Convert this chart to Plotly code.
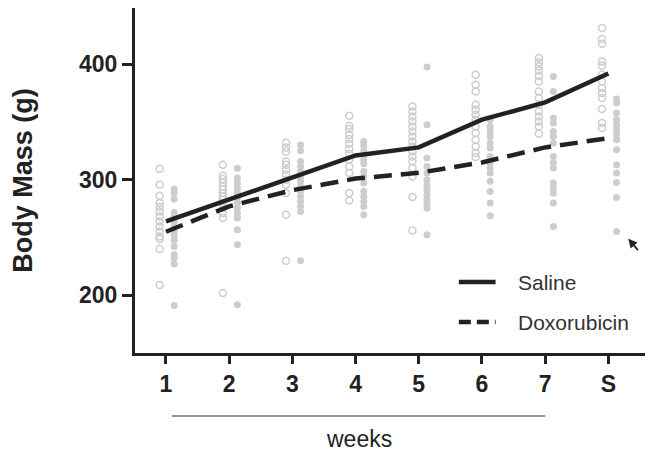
import plotly.graph_objects as go

# ---------------- data ----------------
categories = ["1", "2", "3", "4", "5", "6", "7", "S"]

saline_mean = [264, 283, 301, 321, 328, 352, 367, 392]
doxo_mean = [255, 277, 291, 301, 306, 315, 328, 336]

saline_points = [
    [309.5, 295.7, 286.1, 279.8, 276.4, 272.6, 268.2, 263.9, 259.6, 255.3, 250.9, 248.7, 240.0, 208.9],
    [313, 303.5, 300.6, 297.7, 294.2, 291.3, 288.5, 285.6, 282.7, 279.8, 275.5, 271.2, 266.8, 201.9],
    [332, 328, 324.5, 315.8, 313, 308.7, 304.3, 300, 295.7, 288.5, 269.7, 229.9],
    [355.4, 346.8, 343.9, 339, 335.2, 331.2, 326.6, 322.5, 317.3, 311.5, 305.8, 288.5, 282.1],
    [363.5, 359.1, 354.8, 350.5, 346.1, 341.8, 337.5, 333.2, 328.8, 324.5, 320.2, 315.8, 310.1, 302.9, 285, 256.1],
    [390.9, 382.3, 376.5, 364.9, 360.6, 356.3, 351.9, 346.1, 340.4, 334.6, 328.8, 323.1, 319.6],
    [405.4, 401.6, 398.1, 394.4, 390, 385.1, 376.5, 370.7, 364.9, 359.1, 354.8, 350.5, 346.1, 339.8],
    [431.3, 421.8, 417.7, 402.4, 398.7, 390.9, 385.1, 379.4, 375.1, 370.7, 361.2, 349.1, 344.8],
]

doxo_points = [
    [292, 288.5, 283.3, 271.7, 268.2, 263.9, 259.6, 255.3, 251.5, 247.5, 242.3, 235.1, 232.2, 227, 191.2],
    [310, 301.5, 297, 292.8, 288.5, 284.2, 279.8, 275.5, 271.2, 266.8, 256.7, 243.7, 191.8],
    [330, 325, 315.8, 311.5, 307.2, 302.9, 298.6, 294.2, 289.9, 285.6, 281.3, 277, 272.6, 229.9],
    [333.2, 329.4, 325.4, 321.6, 317.3, 313.9, 307.2, 302.9, 297.1, 289.9, 285.6, 281.2, 276.9, 269.7],
    [397.6, 347.6, 318.8, 311.5, 305.8, 300, 295.7, 291.3, 287, 282.7, 278.4, 275.5, 252.4],
    [351.9, 346.1, 341.8, 337.5, 331.8, 327.4, 320.2, 314.4, 310.1, 305.8, 298.6, 289.9, 279.8, 268.8],
    [389.4, 376.5, 353.4, 349.1, 341.8, 337.5, 331.8, 320.2, 314.4, 310.1, 297.1, 292.8, 288.5, 279.8, 259.6],
    [369.9, 366.4, 357.7, 351.9, 347.6, 343.3, 339, 334.6, 326, 313, 305.8, 297.7, 284.7, 255.3],
]

series_names = ["Saline", "Doxorubicin"]
y_ticks = [200, 300, 400]

# ---------------- figure ----------------
FONT = "Arial, Liberation Sans, sans-serif"
DARK = "#222222"
GRAY = "#cdcdcd"

pos = list(range(1, len(categories) + 1))
OFF_S, OFF_D = -0.10, 0.13

sx, sy, dx, dy = [], [], [], []
for i, p in enumerate(pos):
    for v in saline_points[i]:
        sx.append(p + OFF_S)
        sy.append(v)
    for v in doxo_points[i]:
        dx.append(p + OFF_D)
        dy.append(v)

fig = go.Figure()
fig.add_trace(go.Scatter(
    x=sx, y=sy, mode="markers", showlegend=False,
    marker=dict(symbol="circle-open", size=7, color=GRAY, line=dict(width=1.5, color=GRAY)),
))
fig.add_trace(go.Scatter(
    x=dx, y=dy, mode="markers", showlegend=False,
    marker=dict(symbol="circle", size=7, color=GRAY, line=dict(width=0)),
))
fig.add_trace(go.Scatter(
    x=pos, y=saline_mean, mode="lines", name=series_names[0], showlegend=False,
    line=dict(color=DARK, width=4.5),
))
fig.add_trace(go.Scatter(
    x=pos, y=doxo_mean, mode="lines", name=series_names[1], showlegend=False,
    line=dict(color=DARK, width=4.5, dash="18px,9px"),
))

# figure geometry (page body has an 8px margin; figure is sized/offset to compensate)
W, H = 642, 444
ML, MR, MT = 125, 5, 0
MB = H - 345
plot_h = H - MT - MB

def py(px_abs):
    """absolute page pixel row -> paper y"""
    return (353 - px_abs) / plot_h

# manual legend
leg = [(py(282), "solid", series_names[0]), (py(322), "12px,6px", series_names[1])]
for yp, dash, name in leg:
    fig.add_shape(type="line", xref="paper", yref="paper", x0=0.635, x1=0.707, y0=yp, y1=yp,
                  line=dict(color=DARK, width=4.5, dash=dash))
    fig.add_annotation(xref="paper", yref="paper", x=0.748, y=yp, text=name, showarrow=False,
                       xanchor="left", yanchor="middle",
                       font=dict(family=FONT, size=21, color="#333333"))

# weeks bracket line and label
fig.add_shape(type="line", xref="x", yref="paper", x0=1.09, x1=7.0, y0=py(416), y1=py(416),
              line=dict(color="#333333", width=1.2))
fig.add_annotation(xref="x", yref="paper", x=4.05, y=py(439), text="weeks", showarrow=False,
                   xanchor="center", yanchor="middle",
                   font=dict(family=FONT, size=23, color="#222222"))

# arrow pointing to outlier
fig.add_annotation(x=8.315, y=249, xref="x", yref="y", text="", showarrow=True,
                   ax=11, ay=13, arrowhead=2, arrowsize=1, arrowwidth=1.8, arrowcolor=DARK)

fig.update_layout(
    width=W, height=H,
    margin=dict(l=ML, r=MR, t=MT, b=MB),
    plot_bgcolor="white", paper_bgcolor="white",
    font=dict(family=FONT, color=DARK),
    showlegend=False,
)
fig.update_xaxes(
    range=[0.51, 8.58], tickmode="array", tickvals=pos, ticktext=categories,
    showgrid=False, zeroline=False, showline=True, linecolor=DARK, linewidth=3,
    ticks="outside", ticklen=8, tickwidth=2.5, tickcolor=DARK,
    tickfont=dict(family=FONT, size=23, color=DARK, weight="bold"),
)
fig.update_yaxes(
    range=[150, 448.7], tickmode="array", tickvals=y_ticks,
    showgrid=False, zeroline=False, showline=True, linecolor=DARK, linewidth=3,
    ticks="outside", ticklen=10, tickwidth=2.5, tickcolor=DARK,
    tickfont=dict(family=FONT, size=23, color=DARK, weight="bold"),
    title=dict(text="Body Mass (g)", font=dict(family=FONT, size=27, color=DARK, weight="bold"),
               standoff=52),
)

fig.write_html("out.html")
